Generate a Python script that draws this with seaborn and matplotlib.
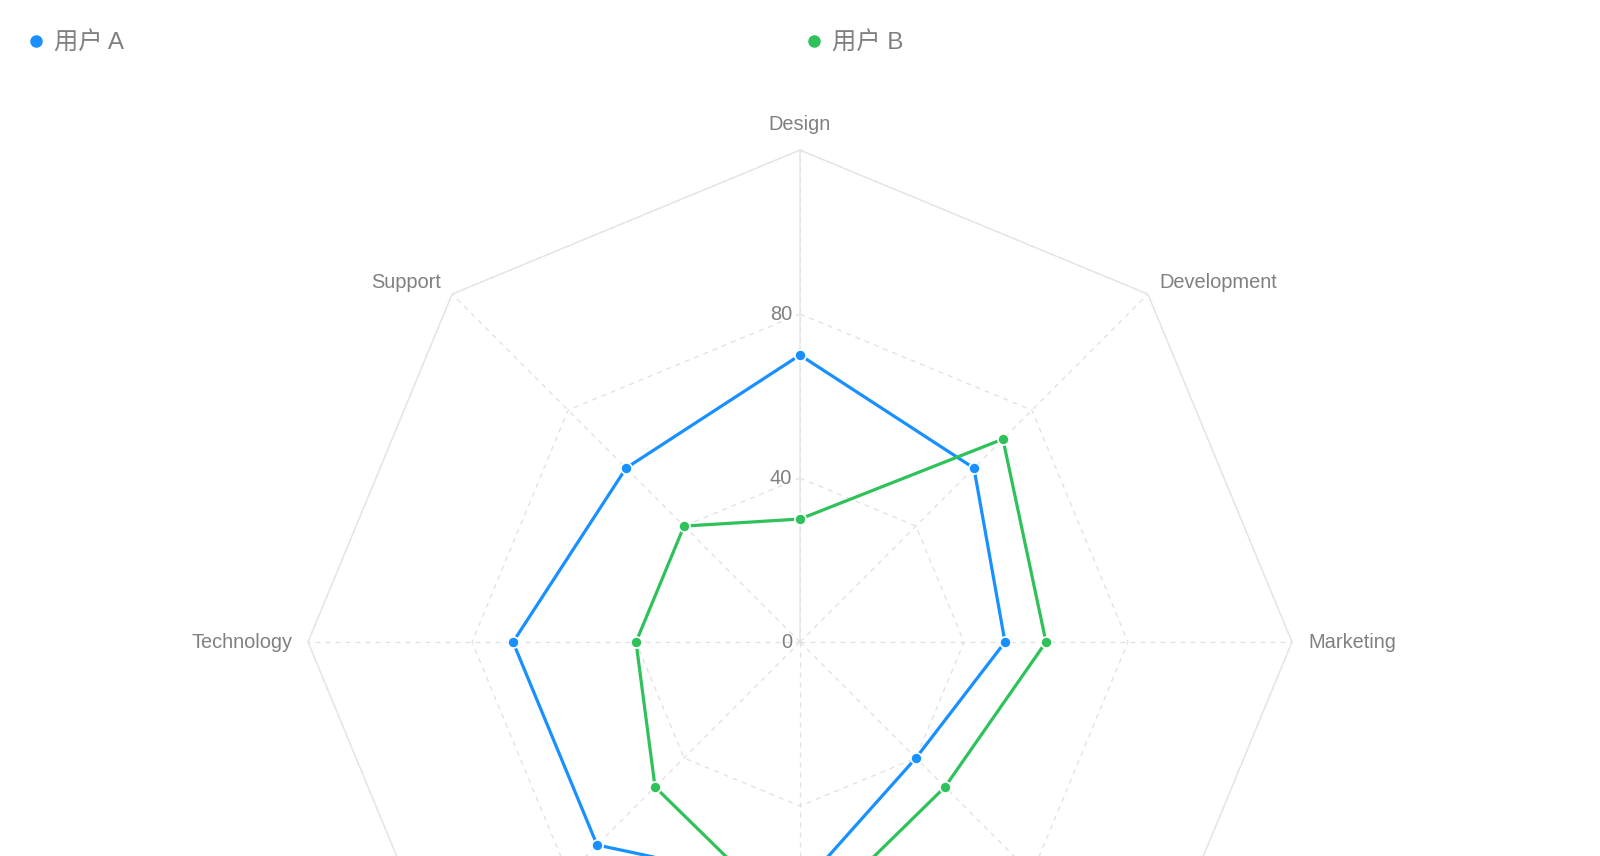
import numpy as np
import pandas as pd
import matplotlib
matplotlib.use("Agg")
import matplotlib.pyplot as plt
from matplotlib.lines import Line2D
import seaborn as sns

# data
categories = ['Design', 'Development', 'Marketing', 'Users', 'Test', 'Language', 'Technology', 'Support']
user_a = [70, 60, 50, 40, 60, 70, 70, 60]
user_b = [30, 70, 60, 50, 70, 50, 40, 40]
series_names = ['用户 A', '用户 B']
colors = ['#1890FF', '#2FC25B']
ticks = [0, 40, 80]
r_max = 120

sns.set_style("white")
plt.rcParams['font.family'] = ['Liberation Sans', 'Noto Sans CJK SC', 'DejaVu Sans']

n = len(categories)
theta = np.arange(n) * 2 * np.pi / n
theta_closed = np.append(theta, 2 * np.pi)

fig = plt.figure(figsize=(16, 8.56), dpi=100)
# polar axes centred at (800, 642) px, radius 492 px - bottom is cut off by the canvas
ax = fig.add_axes([0.1925, -0.3248, 0.615, 1.1495], projection='polar')
ax.set_theta_zero_location('N')
ax.set_theta_direction(-1)
ax.set_ylim(0, r_max)
ax.grid(False)
ax.spines['polar'].set_visible(False)
ax.patch.set_visible(False)

grid_col = '#e0e0e0'
# polygon grid rings
for r in [40, 80, 120]:
    ax.plot(theta_closed, [r] * (n + 1), color=grid_col, lw=0.9,
            ls=(0, (4, 4)), clip_on=False, zorder=1)
ax.plot(theta_closed, [r_max] * (n + 1), color='#e6e6e6', lw=1.1, clip_on=False, zorder=1)
# spokes
for t in theta:
    ax.plot([t, t], [0, r_max], color=grid_col, lw=0.9, ls=(0, (4, 4)), clip_on=False, zorder=1)
ax.plot([0, 0], [0, r_max], color='#e6e6e6', lw=1.1, clip_on=False, zorder=1)

# series
df = pd.DataFrame({
    'theta': np.concatenate([theta_closed, theta_closed]),
    'value': user_a + user_a[:1] + user_b + user_b[:1],
    'user': [series_names[0]] * (n + 1) + [series_names[1]] * (n + 1),
})
for name, col in zip(series_names, colors):
    sub = df[df['user'] == name]
    sns.lineplot(data=sub, x='theta', y='value', ax=ax, color=col, lw=2.3, sort=False,
                 marker='o', markersize=8, markeredgecolor='white', markeredgewidth=1.2,
                 legend=False, zorder=3)
ax.set_xlabel('')
ax.set_ylabel('')
ax.set_xticks([])
ax.set_yticks([])
ax.set_ylim(0, r_max)

# category labels (the lower ones fall outside the canvas, as in the original)
label_col = '#808080'
off = 16
fig.canvas.draw()
for t, lab in zip(theta, categories):
    s, c = np.sin(t), np.cos(t)
    px, py = ax.transData.transform((t, r_max))
    if py - off < 0:
        continue
    if abs(s) < 1e-6:
        ha = 'center'
        va = 'bottom' if c > 0 else 'top'
    else:
        ha = 'left' if s > 0 else 'right'
        va = 'center'
    ax.annotate(lab, xy=(t, r_max), xytext=(off * s, off * c), textcoords='offset pixels',
                ha=ha, va=va, fontsize=14.4, color=label_col, annotation_clip=False)

# radial tick labels
for v in ticks:
    ax.annotate(str(v), xy=(0, v), xytext=(-8, 0), textcoords='offset pixels',
                ha='right', va='center', fontsize=14.4, color=label_col, annotation_clip=False)

# legend
handles = [Line2D([], [], ls='', marker='o', markersize=8, color=col) for col in colors]
fig.legend(handles, series_names, loc='center left', bbox_to_anchor=(0.0044, 0.95),
           ncol=2, frameon=False, handlelength=0.6, handletextpad=0.43,
           columnspacing=28.1, prop={'size': 17.5}, labelcolor=label_col)

fig.savefig('out.png', dpi=100)
